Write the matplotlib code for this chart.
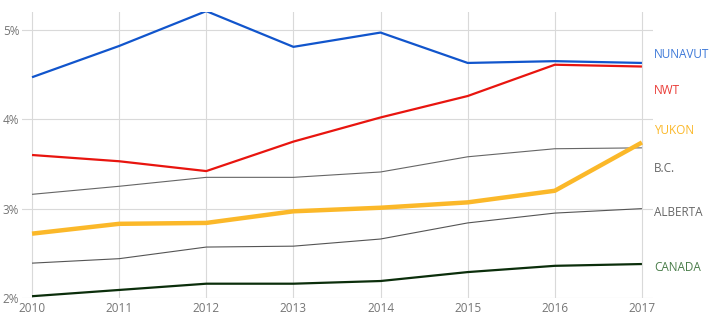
import matplotlib
matplotlib.use("Agg")
import matplotlib.pyplot as plt

plt.rcParams["font.family"] = ["Open Sans", "DejaVu Sans"]

years = [2010, 2011, 2012, 2013, 2014, 2015, 2016, 2017]

nunavut = [4.47, 4.82, 5.21, 4.81, 4.97, 4.63, 4.65, 4.63]
nwt = [3.60, 3.53, 3.42, 3.75, 4.02, 4.26, 4.61, 4.59]
bc = [3.16, 3.25, 3.35, 3.35, 3.41, 3.58, 3.67, 3.68]
yukon = [2.72, 2.83, 2.84, 2.97, 3.01, 3.07, 3.20, 3.74]
alberta = [2.39, 2.44, 2.57, 2.58, 2.66, 2.84, 2.95, 3.00]
canada = [2.02, 2.09, 2.16, 2.16, 2.19, 2.29, 2.36, 2.38]

# (name, values, line colour, label colour, width, label y)
series = [
    ("NUNAVUT", nunavut, "#1155cc", "#3c78d8", 1.6, 4.73),
    ("NWT", nwt, "#e8150f", "#ea3a35", 1.6, 4.32),
    ("B.C.", bc, "#666666", "#666666", 0.8, 3.45),
    ("YUKON", yukon, "#fbb829", "#fbb829", 3.2, 3.87),
    ("ALBERTA", alberta, "#555555", "#666666", 0.8, 2.96),
    ("CANADA", canada, "#0b2e0b", "#4a7d4a", 1.6, 2.34),
]

fig = plt.figure(figsize=(7.11, 3.21), dpi=100)
ax = fig.add_axes([22 / 711, 1 - 298 / 321, (653 - 22) / 711, (298 - 12) / 321])

x = list(range(len(years)))
for name, vals, col, lcol, lw, ly in series:
    ax.plot(x, vals, color=col, lw=lw, solid_capstyle="butt", zorder=3)
    ax.text(7.127 + 0.01, ly, name, color=lcol, fontsize=8.5,
            ha="left", va="center", clip_on=False)

ax.set_xlim(-0.115, 7.127)
ax.set_ylim(2, 5.2)
ax.set_xticks(x)
ax.set_xticklabels([str(y) for y in years])
ax.set_yticks([2, 3, 4, 5])
ax.set_yticklabels(["2%", "3%", "4%", "5%"])

for yv in [2, 3, 4, 5]:
    ax.axhline(yv, color="#d9d9d9", lw=0.8, zorder=1)
for xv in x:
    ax.axvline(xv, color="#d9d9d9", lw=0.8, zorder=1)

for s in ax.spines.values():
    s.set_visible(False)
ax.tick_params(length=0, labelsize=8.5, colors="#757575")
ax.tick_params(axis="y", pad=2)
ax.tick_params(axis="x", pad=3)

fig.savefig("out.png", dpi=100)
